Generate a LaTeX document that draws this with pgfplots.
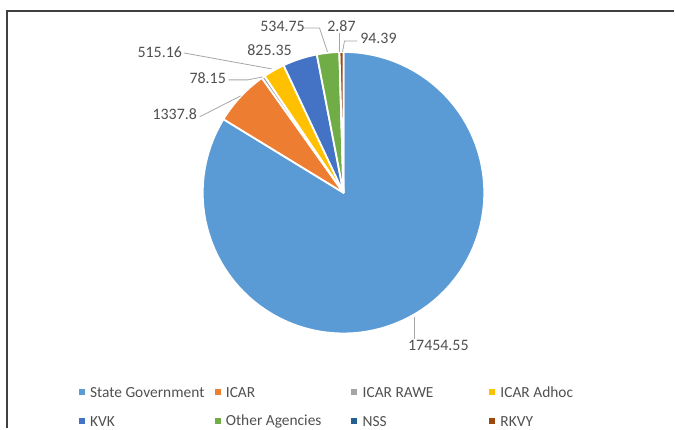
\documentclass[border=0pt]{standalone}
\usepackage{pgfplots}
\pgfplotsset{compat=1.18}
\usepackage{fontspec}
\setmainfont{Carlito}
\definecolor{cA}{HTML}{5B9BD5}
\definecolor{cB}{HTML}{ED7D31}
\definecolor{cC}{HTML}{A5A5A5}
\definecolor{cD}{HTML}{FFC000}
\definecolor{cE}{HTML}{4472C4}
\definecolor{cF}{HTML}{70AD47}
\definecolor{cG}{HTML}{255E91}
\definecolor{cH}{HTML}{9E480E}
\definecolor{txt}{HTML}{505050}
\definecolor{lead}{HTML}{A6A6A6}
\definecolor{frame}{HTML}{404040}
% data values
\def\vA{17454.55}% State Government
\def\vB{1337.8}%   ICAR
\def\vC{78.15}%    ICAR RAWE
\def\vD{515.16}%   ICAR Adhoc
\def\vE{825.35}%   KVK
\def\vF{534.75}%   Other Agencies
\def\vG{2.87}%     NSS
\def\vH{94.39}%    RKVY
\edef\tot{\fpeval{\vA+\vB+\vC+\vD+\vE+\vF+\vG+\vH}}
\edef\eA{\fpeval{90-360*\vA/\tot}}
\edef\eB{\fpeval{\eA-360*\vB/\tot}}
\edef\eC{\fpeval{\eB-360*\vC/\tot}}
\edef\eD{\fpeval{\eC-360*\vD/\tot}}
\edef\eE{\fpeval{\eD-360*\vE/\tot}}
\edef\eF{\fpeval{\eE-360*\vF/\tot}}
\edef\eG{\fpeval{\eF-360*\vG/\tot}}
\edef\eH{\fpeval{\eG-360*\vH/\tot}}
\def\cx{344}\def\cy{236}\def\rr{141}
\begin{document}
\begin{tikzpicture}
\begin{axis}[
  x=1bp, y=1bp, xmin=0, xmax=675, ymin=0, ymax=429,
  hide axis, clip=false, scale only axis,
  slice/.style={draw=white, line width=1.8bp, line join=round, samples=100},
]
\addplot[draw=none, forget plot] coordinates {(0,0) (675,429)};
\addplot[slice, fill=cA, domain=\eA:90] ({\cx+\rr*cos(x)},{\cy+\rr*sin(x)}) -- (axis cs:\cx,\cy) -- cycle;
\addplot[slice, fill=cB, domain=\eB:\eA, samples=30] ({\cx+\rr*cos(x)},{\cy+\rr*sin(x)}) -- (axis cs:\cx,\cy) -- cycle;
\addplot[slice, fill=cC, domain=\eC:\eB, samples=5] ({\cx+\rr*cos(x)},{\cy+\rr*sin(x)}) -- (axis cs:\cx,\cy) -- cycle;
\addplot[slice, fill=cD, domain=\eD:\eC, samples=15] ({\cx+\rr*cos(x)},{\cy+\rr*sin(x)}) -- (axis cs:\cx,\cy) -- cycle;
\addplot[slice, fill=cE, domain=\eE:\eD, samples=20] ({\cx+\rr*cos(x)},{\cy+\rr*sin(x)}) -- (axis cs:\cx,\cy) -- cycle;
\addplot[slice, fill=cF, domain=\eF:\eE, samples=15] ({\cx+\rr*cos(x)},{\cy+\rr*sin(x)}) -- (axis cs:\cx,\cy) -- cycle;
\addplot[slice, fill=cG, domain=\eG:\eF, samples=2] ({\cx+\rr*cos(x)},{\cy+\rr*sin(x)}) -- (axis cs:\cx,\cy) -- cycle;
\addplot[slice, fill=cH, domain=\eH:\eG, samples=5] ({\cx+\rr*cos(x)},{\cy+\rr*sin(x)}) -- (axis cs:\cx,\cy) -- cycle;

% frame
\draw[frame, line width=2bp] (axis cs:7,0) -- (axis cs:7,418) -- (axis cs:675,418);

% leader lines
\begin{scope}[lead, line width=0.8bp]
\draw (axis cs:415,112) -- (axis cs:415,90);
\draw (axis cs:200,312) -- (axis cs:241,333);
\draw (axis cs:229,349) -- (axis cs:248,349) -- (axis cs:263,352);
\draw (axis cs:184,376) -- (axis cs:272,360);
\draw (axis cs:302,401) -- (axis cs:320,401) -- (axis cs:328,377);
\draw (axis cs:340,396) -- (axis cs:340,377);
\draw (axis cs:358,388) -- (axis cs:345,388) -- (axis cs:343,377);
\end{scope}

% data labels
\begin{scope}[every node/.style={text=txt, font=\fontsize{16}{18}\selectfont, inner sep=0pt}]
\node at (axis cs:439,83) {17454.55};
\node at (axis cs:175,315) {1337.8};
\node at (axis cs:208,351) {78.15};
\node at (axis cs:160,377) {515.16};
\node at (axis cs:270,379) {825.35};
\node at (axis cs:283,403) {534.75};
\node at (axis cs:342,403) {2.87};
\node at (axis cs:379,391) {94.39};
\end{scope}

% legend
\begin{scope}[every node/.style={text=txt, font=\fontsize{15.5}{18}\selectfont, inner sep=0pt, anchor=west}]
\fill[cA] (axis cs:79,33) rectangle (axis cs:85,39);
\node at (axis cs:90,36) {State Government};
\fill[cB] (axis cs:215,33) rectangle (axis cs:221,39);
\node at (axis cs:226,36) {ICAR};
\fill[cC] (axis cs:352,33) rectangle (axis cs:358,39);
\node at (axis cs:363,36) {ICAR RAWE};
\fill[cD] (axis cs:490,33) rectangle (axis cs:496,39);
\node at (axis cs:501,36) {ICAR Adhoc};
\fill[cE] (axis cs:79,4) rectangle (axis cs:85,10);
\node at (axis cs:90,7) {KVK};
\fill[cF] (axis cs:215,4) rectangle (axis cs:221,10);
\node at (axis cs:226,7) {Other Agencies};
\fill[cG] (axis cs:352,4) rectangle (axis cs:358,10);
\node at (axis cs:363,7) {NSS};
\fill[cH] (axis cs:490,4) rectangle (axis cs:496,10);
\node at (axis cs:501,7) {RKVY};
\end{scope}
\end{axis}
\end{tikzpicture}
\end{document}
